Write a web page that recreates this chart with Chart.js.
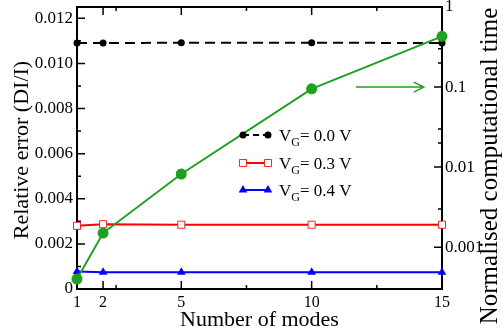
<!DOCTYPE html>
<html>
<head>
<meta charset="utf-8">
<script src="https://cdn.jsdelivr.net/npm/chart.js"></script>
<style>
  html, body { margin: 0; padding: 0; background: #fff; }
  #wrap { width: 503px; height: 333px; }
</style>
</head>
<body>
<div id="wrap"><canvas id="myChart" width="503" height="333"></canvas></div>
<script>
// values
const modes = [1, 2, 5, 10, 15];
const errVG00 = [0.01090, 0.01090, 0.01092, 0.01092, 0.01090];
const errVG03 = [0.00280, 0.00287, 0.00285, 0.00285, 0.00285];
const errVG04 = [0.00078, 0.00074, 0.00074, 0.00074, 0.00074];
const compTime = [0.0004, 0.0015, 0.0082, 0.095, 0.43];

const legendVG = ['0.0', '0.3', '0.4'];

// ticks
const xTicks = [1, 2, 5, 10, 15];
const xMinorTicks = [2.5, 7.5, 12.5];
const errTicks = [0, 0.002, 0.004, 0.006, 0.008, 0.010, 0.012];
const errMinorTicks = [0.001, 0.003, 0.005, 0.007, 0.009, 0.011];
const timeTicks = [0.001, 0.01, 0.1, 1];
const timeMinorTicks = [0.002, 0.003, 0.02, 0.03, 0.2, 0.3];

const GREEN = '#20a020';
const FONT = "'Liberation Serif', 'DejaVu Serif', serif";

Chart.defaults.font.family = FONT;
Chart.defaults.color = '#000';

const pts = (ys) => modes.map((m, i) => ({x: m, y: ys[i]}));

const datasets = [
    {
        label: 'time', data: pts(compTime), yAxisID: 'y2', order: 0,
        borderColor: GREEN, backgroundColor: GREEN, borderWidth: 2,
        pointStyle: 'circle', pointRadius: 5.5, pointBorderWidth: 0
    },
    {
        label: 'VG=0.0', data: pts(errVG00), yAxisID: 'y', order: 1,
        borderColor: '#000', backgroundColor: '#000', borderWidth: 2, borderDash: [10, 6],
        pointStyle: 'circle', pointRadius: 3.5, pointBorderWidth: 0
    },
    {
        label: 'VG=0.3', data: pts(errVG03), yAxisID: 'y', order: 1,
        borderColor: '#ff0000', backgroundColor: '#fff', borderWidth: 2,
        pointStyle: 'rect', pointRadius: 5, pointBorderWidth: 1, pointBorderColor: '#ff2020'
    },
    {
        label: 'VG=0.4', data: pts(errVG04), yAxisID: 'y', order: 1,
        borderColor: '#0000ff', backgroundColor: '#0000ff', borderWidth: 2,
        pointStyle: 'triangle', pointRadius: 5, pointBorderWidth: 0
    }
];

function setTicks(vals) {
    return (scale) => { scale.ticks = vals.map(v => ({value: v})); };
}

// fixed axis sizes, no extra room for edge labels
function fixSize(w, h) {
    return (s) => {
        if (w !== null) s.width = w;
        if (h !== null) s.height = h;
        s.paddingTop = 0; s.paddingBottom = 0;
        s.paddingLeft = 0; s.paddingRight = 0;
    };
}

// frame + inward ticks, drawn under the data
const framePlugin = {
    id: 'frame',
    beforeDatasetsDraw(chart) {
        const {ctx, chartArea: a, scales} = chart;
        ctx.save();
        ctx.strokeStyle = '#000';
        ctx.lineWidth = 1.5;
        ctx.beginPath();
        const tick = (x1, y1, x2, y2) => { ctx.moveTo(x1, y1); ctx.lineTo(x2, y2); };
        xTicks.forEach(v => {
            const px = scales.x.getPixelForValue(v);
            tick(px, a.bottom, px, a.bottom - 8);
            tick(px, a.top, px, a.top + 8);
        });
        xMinorTicks.forEach(v => {
            const px = scales.x.getPixelForValue(v);
            tick(px, a.bottom, px, a.bottom - 4);
            tick(px, a.top, px, a.top + 4);
        });
        errTicks.forEach(v => {
            const py = scales.y.getPixelForValue(v);
            tick(a.left, py, a.left + 8, py);
        });
        errMinorTicks.forEach(v => {
            const py = scales.y.getPixelForValue(v);
            tick(a.left, py, a.left + 4, py);
        });
        timeTicks.forEach(v => {
            const py = scales.y2.getPixelForValue(v);
            tick(a.right, py, a.right - 8, py);
        });
        timeMinorTicks.forEach(v => {
            const py = scales.y2.getPixelForValue(v);
            tick(a.right, py, a.right - 4, py);
        });
        ctx.stroke();
        ctx.lineWidth = 2;
        ctx.strokeRect(a.left, a.top, a.right - a.left, a.bottom - a.top);
        ctx.restore();
    },
    afterDatasetsDraw(chart) {
        // arrow pointing at the right axis
        const {ctx, scales} = chart;
        const y = scales.y2.getPixelForValue(0.1);
        const x1 = scales.x.getPixelForValue(11.7);
        const x2 = scales.x.getPixelForValue(14.3);
        ctx.save();
        ctx.strokeStyle = GREEN;
        ctx.lineWidth = 1.5;
        ctx.beginPath();
        ctx.moveTo(x1, y); ctx.lineTo(x2, y);
        ctx.moveTo(x2 - 10, y - 5); ctx.lineTo(x2, y); ctx.lineTo(x2 - 10, y + 5);
        ctx.stroke();
        ctx.restore();
    },
    afterDraw(chart) {
        const {ctx, chartArea: a} = chart;
        ctx.save();
        ctx.fillStyle = '#000';
        ctx.textAlign = 'center';
        ctx.textBaseline = 'middle';

        // axis titles
        ctx.font = '22px ' + FONT;
        ctx.fillText('Number of modes', (a.left + a.right) / 2, 320);

        ctx.save();
        ctx.translate(22, (a.top + a.bottom) / 2 + 2);
        ctx.rotate(-Math.PI / 2);
        ctx.fillText('Relative error (DI/I)', 0, 0);
        ctx.restore();

        ctx.save();
        ctx.font = '25px ' + FONT;
        ctx.translate(490, 166);
        ctx.rotate(-Math.PI / 2);
        ctx.fillText('Normalised computational time', 0, 0);
        ctx.restore();

        // legend
        const rows = [135, 163, 190];
        datasets.slice(1).forEach((ds, i) => {
            const y = rows[i];
            ctx.save();
            ctx.strokeStyle = ds.borderColor;
            ctx.lineWidth = 2;
            ctx.setLineDash(ds.borderDash ? [6, 4] : []);
            ctx.beginPath();
            ctx.moveTo(243, y); ctx.lineTo(269, y);
            ctx.stroke();
            ctx.setLineDash([]);
            const opts = {
                pointStyle: ds.pointStyle, radius: ds.pointRadius, rotation: 0,
                borderWidth: ds.pointBorderWidth
            };
            ctx.fillStyle = ds.backgroundColor;
            ctx.strokeStyle = ds.pointBorderColor || ds.borderColor;
            ctx.lineWidth = ds.pointBorderWidth;
            Chart.helpers.drawPoint(ctx, opts, 243, y);
            Chart.helpers.drawPoint(ctx, opts, 268, y);
            ctx.restore();

            ctx.textAlign = 'left';
            ctx.textBaseline = 'alphabetic';
            let x = 279;
            ctx.font = '17px ' + FONT;
            ctx.fillText('V', x, y + 6);
            x += ctx.measureText('V').width;
            ctx.font = '12px ' + FONT;
            ctx.fillText('G', x, y + 11);
            x += ctx.measureText('G').width;
            ctx.font = '17px ' + FONT;
            ctx.fillText('= ' + legendVG[i] + ' V', x, y + 6);
        });
        ctx.restore();
    }
};

new Chart(document.getElementById('myChart'), {
    type: 'line',
    data: {datasets: datasets},
    options: {
        responsive: false,
        animation: false,
        events: [],
        clip: false,
        layout: {padding: {top: 7, left: 0, right: 0, bottom: 0}},
        plugins: {legend: {display: false}, tooltip: {enabled: false}},
        scales: {
            x: {
                type: 'linear', min: 1, max: 15,
                afterBuildTicks: setTicks(xTicks),
                afterFit: fixSize(null, 44),
                grid: {display: false, drawTicks: false},
                border: {display: false},
                ticks: {font: {size: 16}, padding: 4, maxRotation: 0, autoSkip: false,
                    callback: (v) => String(v)}
            },
            y: {
                type: 'linear', position: 'left', min: 0, max: 0.0125,
                afterBuildTicks: setTicks(errTicks),
                afterFit: fixSize(77, null),
                grid: {display: false, drawTicks: false},
                border: {display: false},
                ticks: {font: {size: 17}, padding: 4, autoSkip: false,
                    callback: (v) => v === 0 ? '0' : v.toFixed(3)}
            },
            y2: {
                type: 'logarithmic', position: 'right', min: 0.0003, max: 1,
                afterBuildTicks: setTicks(timeTicks),
                afterFit: fixSize(61, null),
                grid: {display: false, drawTicks: false},
                border: {display: false},
                ticks: {font: {size: 17}, padding: 3, autoSkip: false,
                    callback: (v) => String(v)}
            }
        }
    },
    plugins: [framePlugin]
});
</script>
</body>
</html>
